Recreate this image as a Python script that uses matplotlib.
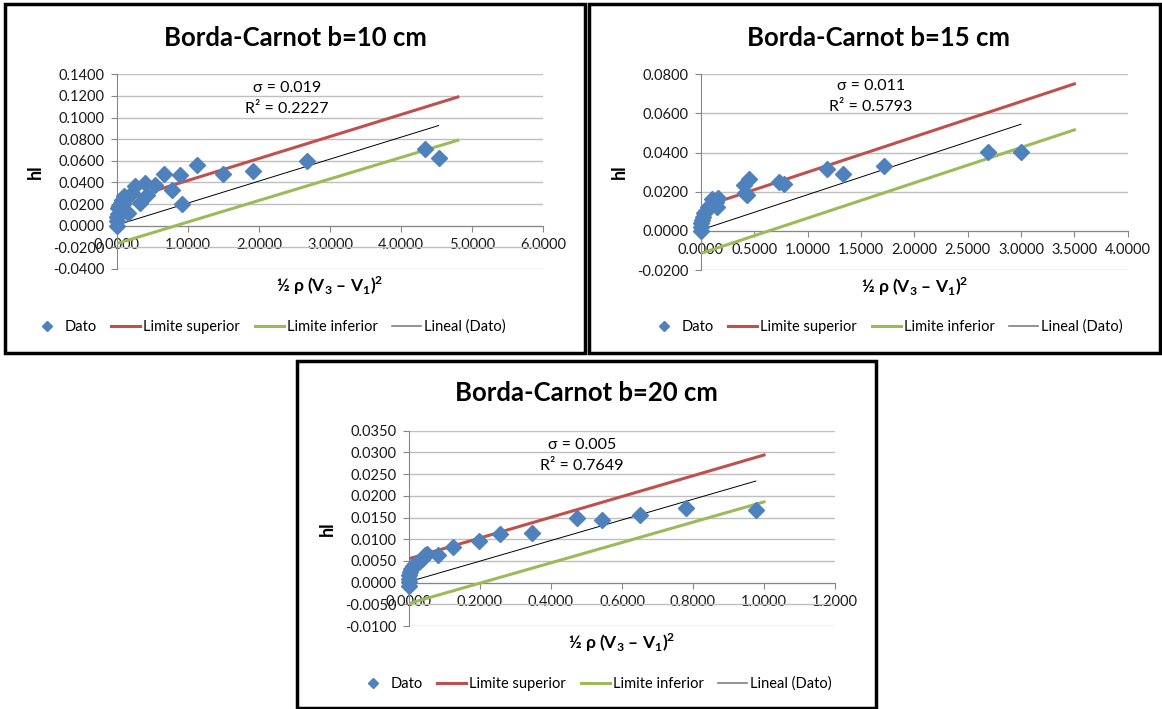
import matplotlib
matplotlib.use('Agg')
import matplotlib.pyplot as plt
from matplotlib.patches import Rectangle
from matplotlib.lines import Line2D
from matplotlib.ticker import FormatStrFormatter, MultipleLocator

plt.rcParams['font.family'] = ['Lato', 'DejaVu Sans']
plt.rcParams['mathtext.fontset'] = 'custom'
plt.rcParams['mathtext.rm'] = 'Lato'
plt.rcParams['mathtext.bf'] = 'Lato:bold'

# --- data ---
# b = 10 cm
x10 = [0.0, 0.0, 0.0, 0.01, 0.02, 0.03, 0.05, 0.06, 0.07, 0.08, 0.10, 0.12, 0.155,
       0.21, 0.26, 0.32, 0.40, 0.42, 0.53, 0.66, 0.77, 0.89, 0.92, 1.12, 1.49,
       1.92, 2.67, 4.34, 4.53]
y10 = [0.0, 0.004, 0.008, 0.011, 0.016, 0.018, 0.021, 0.014, 0.024, 0.020, 0.027,
       0.025, 0.0115, 0.030, 0.037, 0.021, 0.039, 0.028, 0.038, 0.048, 0.033, 0.047,
       0.020, 0.056, 0.048, 0.051, 0.060, 0.0707, 0.063]
lim10_x = [0.0, 4.8]
sup10 = [0.0215, 0.119]
inf10 = [-0.0165, 0.079]
trend10_x = [0.0, 4.53]
trend10_y = [0.0006, 0.0926]

# b = 15 cm
x15 = [0.0, 0.0, 0.0, 0.005, 0.015, 0.03, 0.05, 0.07, 0.10, 0.14, 0.15, 0.16,
       0.40, 0.41, 0.43, 0.45, 0.73, 0.78, 1.18, 1.33, 1.72, 2.69, 3.0]
y15 = [0.0, 0.002, 0.004, 0.0056, 0.007, 0.009, 0.0104, 0.012, 0.0162, 0.015,
       0.0124, 0.0167, 0.0235, 0.0192, 0.0184, 0.0266, 0.0252, 0.0238, 0.0315,
       0.0289, 0.0332, 0.0402, 0.0405]
lim15_x = [0.0, 3.5]
sup15 = [0.012, 0.0751]
inf15 = [-0.0115, 0.0516]
trend15_x = [0.0, 3.0]
trend15_y = [0.0005, 0.0545]

# b = 20 cm
x20 = [0.0, 0.0, 0.0, 0.0, 0.003, 0.006, 0.01, 0.017, 0.029, 0.036, 0.045, 0.05,
       0.083, 0.123, 0.197, 0.256, 0.347, 0.474, 0.543, 0.65, 0.78, 0.977]
y20 = [-0.0008, 0.0002, 0.0009, 0.0017, 0.0025, 0.0031, 0.0038, 0.0042, 0.0048,
       0.0055, 0.0063, 0.0067, 0.0063, 0.0081, 0.0096, 0.0113, 0.0115, 0.0150,
       0.0144, 0.0155, 0.0173, 0.0168]
lim20_x = [0.0, 1.0]
sup20 = [0.0055, 0.0294]
inf20 = [-0.0048, 0.0186]
trend20_x = [0.0, 0.977]
trend20_y = [0.0002, 0.0234]

blue = '#4F81BD'
red = '#C0504D'
green = '#9BBB59'
W, H = 1162, 709

fig = plt.figure(figsize=(W / 100, H / 100), dpi=100)


def px(x, y):
	return x / W, 1 - y / H


def panel(box, axbox, title, title_xy, x, y, lim_x, sup, inf, tx, ty,
		  xlim, xstep, ylim, ystep, sig, r2, ann_xy, leg_xy):
	# frame around the chart
	x0, y0, x1, y1 = box
	fig.patches.append(Rectangle(px(x0, y1), (x1 - x0) / W, (y1 - y0) / H,
								 transform=fig.transFigure, fill=False,
								 lw=2.5, edgecolor='black'))
	l, t, r, b = axbox
	ax = fig.add_axes([l / W, 1 - b / H, (r - l) / W, (b - t) / H])
	ax.plot(lim_x, sup, color=red, lw=2.2, zorder=3)
	ax.plot(lim_x, inf, color=green, lw=2.2, zorder=3)
	ax.plot(tx, ty, color='black', lw=0.7, zorder=3)
	ax.plot(x, y, 'D', color=blue, ms=8.5, mec=blue, zorder=4, clip_on=False)
	ax.set_xlim(xlim)
	ax.set_ylim(ylim)
	ax.xaxis.set_major_locator(MultipleLocator(xstep))
	ax.yaxis.set_major_locator(MultipleLocator(ystep))
	ax.xaxis.set_major_formatter(FormatStrFormatter('%.4f'))
	ax.yaxis.set_major_formatter(FormatStrFormatter('%.4f'))
	ax.grid(axis='y', color='#BFBFBF', lw=1)
	ax.set_axisbelow(True)
	ax.spines['top'].set_visible(False)
	ax.spines['right'].set_visible(False)
	ax.spines['bottom'].set_position(('data', 0))
	ax.spines['bottom'].set_color('#868686')
	ax.spines['left'].set_color('#868686')
	ax.tick_params(axis='both', colors='#868686', labelcolor='#1a1a1a',
				   labelsize=10.5, length=4, direction='out')
	ax.tick_params(axis='x', pad=5)
	ax.tick_params(axis='y', pad=5)
	ax.patch.set_visible(False)
	# labels
	cx = (l + r) / 2
	fig.text(*px(title_xy[0], title_xy[1]), title, ha='center', va='center',
			 fontsize=18.5, fontweight='bold')
	fig.text(*px(l - 82, (t + b) / 2), 'hl', rotation=90, ha='center',
			 va='center', fontsize=13, fontweight='bold')
	fig.text(*px(cx, b + 17),
			 r'½ ρ (V$_\mathbf{3}$ – V$_\mathbf{1}$)$^\mathbf{2}$',
			 ha='center', va='center', fontsize=12.5, fontweight='bold')
	fig.text(*px(ann_xy[0], ann_xy[1]), 'σ = ' + sig, ha='center',
			 va='center', fontsize=11.5)
	fig.text(*px(ann_xy[0], ann_xy[1] + 21), 'R² = ' + r2, ha='center',
			 va='center', fontsize=11.5)
	handles = [Line2D([], [], ls='none', marker='D', ms=5, color=blue),
			   Line2D([], [], color=red, lw=2.2),
			   Line2D([], [], color=green, lw=2.2),
			   Line2D([], [], color='#808080', lw=1.2)]
	names = ['Dato', 'Limite superior', 'Limite inferior', 'Lineal (Dato)']
	fig.legend(handles, names, loc='center', bbox_to_anchor=px(*leg_xy),
			   ncol=4, frameon=False, fontsize=10.5, handlelength=2.0,
			   handletextpad=0.2, columnspacing=1.0)
	return ax


panel((5, 4, 585, 353), (117, 74.3, 543, 268.9), 'Borda-Carnot b=10 cm',
	  (295, 38), x10, y10, lim10_x, sup10, inf10, trend10_x, trend10_y,
	  (0, 6), 1.0, (-0.04, 0.14), 0.02, '0.019', '0.2227', (287, 88),
	  (269, 327))

panel((589, 4, 1160, 353), (701, 74.3, 1127.7, 270), 'Borda-Carnot b=15 cm',
	  (878, 38), x15, y15, lim15_x, sup15, inf15, trend15_x, trend15_y,
	  (0, 4), 0.5, (-0.02, 0.08), 0.02, '0.011', '0.5793', (871, 86),
	  (886, 327))

panel((297, 361, 876, 708), (409, 430.7, 835, 626), 'Borda-Carnot b=20 cm',
	  (586, 393), x20, y20, lim20_x, sup20, inf20, trend20_x, trend20_y,
	  (0, 1.2), 0.2, (-0.01, 0.035), 0.005, '0.005', '0.7649', (582, 445),
	  (595, 684))

fig.savefig('out.png', dpi=100)
